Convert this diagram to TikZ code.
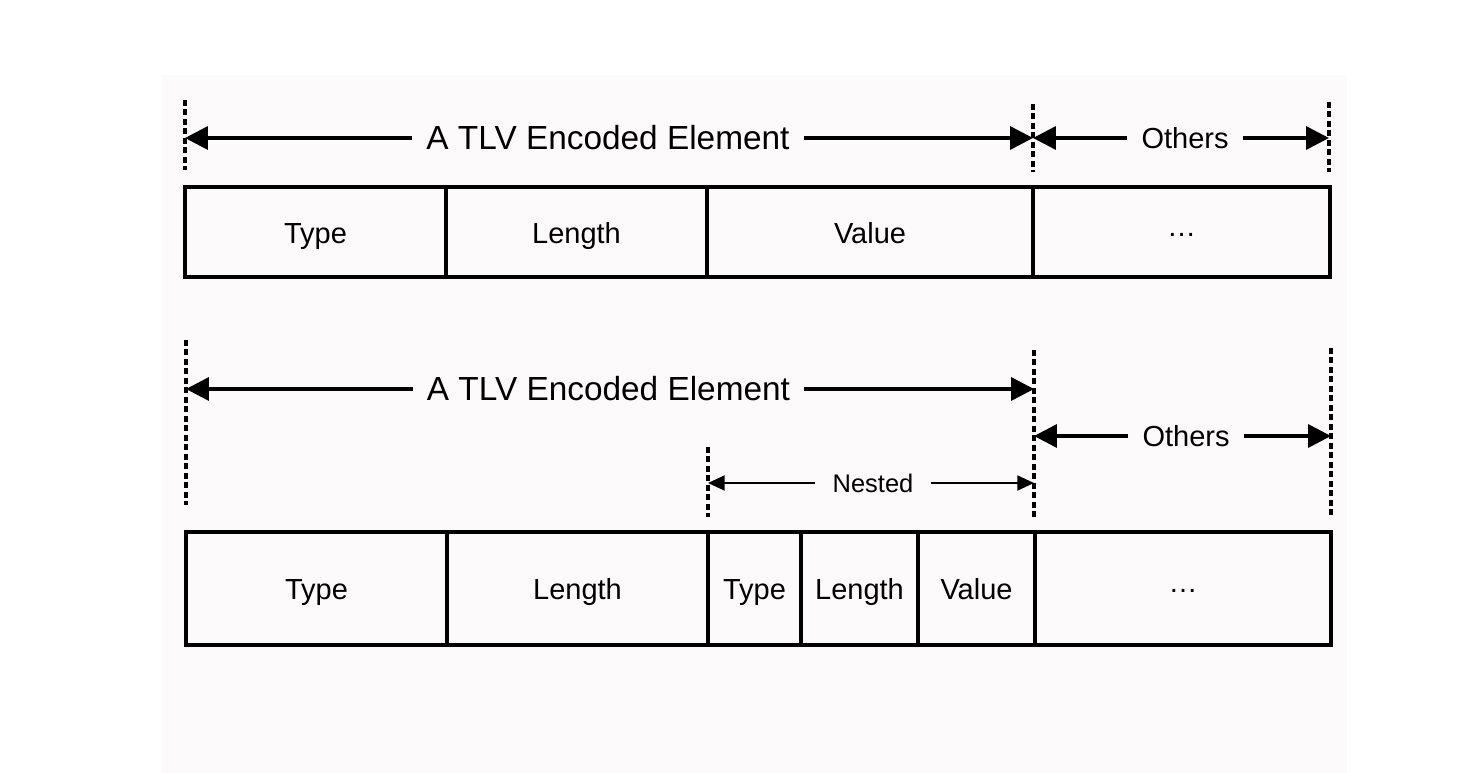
\documentclass[tikz,border=0pt]{standalone}
\usepackage{fontspec}
\setmainfont{Liberation Sans}
\usetikzlibrary{arrows.meta}

\begin{document}
\begin{tikzpicture}
            [x=0.02cm,y=-0.02cm,
             field/.style={draw,line width=2pt,inner sep=0pt,text height=1.3em,text depth=0pt,font=\fontsize{16.5}{20}\selectfont},
             sep/.style={line width=2pt,dash pattern=on 3.4pt off 2pt},
             dim/.style={line width=2pt,-{Triangle[length=13pt,width=13pt]}},
             subdim/.style={line width=1.2pt,-{Triangle[length=9.5pt,width=8.5pt]}},
             big/.style={inner xsep=8pt,inner ysep=0pt,font=\fontsize{19}{23}\selectfont},
             mid/.style={inner xsep=8pt,inner ysep=0pt,font=\fontsize{16.5}{20}\selectfont},
             small/.style={inner xsep=10pt,inner ysep=0pt,font=\fontsize{14.5}{18}\selectfont}]
            \useasboundingbox (0,0) rectangle (1466,773);
            \fill[fill={rgb,255:red,252;green,250;blue,251}] (162,75) rectangle (1347,773);
            
            % upper element
            \node[field,minimum width=5.22cm,minimum height=1.8cm] (T1) at (315.5,232) {Type};
            \node[field,minimum width=5.22cm,minimum height=1.8cm] (L1) at (576.5,232) {Length};
            \node[field,minimum width=6.52cm,minimum height=1.8cm] (V1) at (870,232) {Value};
            \node[field,minimum width=5.94cm,minimum height=1.8cm] (O1) at (1181.5,232) {\raisebox{0.25em}{…}};
            
            \coordinate (S1a) at (185,100);
            \coordinate (S1b) at (185,170);
            \coordinate (S2a) at (1033,104);
            \coordinate (S2b) at (1033,172);
            \coordinate (S3a) at (1329,102);
            \coordinate (S3b) at (1329,172);
            \draw[sep] (S1a) -- (S1b);
            \draw[sep] (S2a) -- (S2b);
            \draw[sep] (S3a) -- (S3b);
            
            \coordinate (E1l) at (185,138);
            \coordinate (E1r) at (1033,138);
            \coordinate (R1l) at (1033,138);
            \coordinate (R1r) at (1329,138);
            \node[big] (E1) at (608,138) {A TLV Encoded Element};
            \node[mid] (R1) at (1185,138) {Others};
            \draw[dim] (E1) -- (E1l);
            \draw[dim] (E1) -- (E1r);
            \draw[dim] (R1) -- (R1l);
            \draw[dim] (R1) -- (R1r);
            
            % lower element
            \node[field,minimum width=5.22cm,minimum height=2.26cm] (T2) at (316.5,588.5) {Type};
            \node[field,minimum width=5.22cm,minimum height=2.26cm] (L2) at (577.5,588.5) {Length};
            \node[field,minimum width=1.86cm,minimum height=2.26cm] (NT) at (754.5,588.5) {Type};
            \node[field,minimum width=2.34cm,minimum height=2.26cm] (NL) at (859.5,588.5) {Length};
            \node[field,minimum width=2.34cm,minimum height=2.26cm] (NV) at (976.5,588.5) {Value};
            \node[field,minimum width=5.92cm,minimum height=2.26cm] (O2) at (1183,588.5) {\raisebox{0.25em}{…}};
            
            \coordinate (S4a) at (186,340);
            \coordinate (S4b) at (186,505);
            \coordinate (S5a) at (1034,350);
            \coordinate (S5b) at (1034,518);
            \coordinate (S6a) at (1331,348);
            \coordinate (S6b) at (1331,518);
            \coordinate (S7a) at (708,447);
            \coordinate (S7b) at (708,517);
            \draw[sep] (S4a) -- (S4b);
            \draw[sep] (S5a) -- (S5b);
            \draw[sep] (S6a) -- (S6b);
            \draw[sep] (S7a) -- (S7b);
            
            \coordinate (E2l) at (186,389);
            \coordinate (E2r) at (1034,389);
            \coordinate (R2l) at (1034,436);
            \coordinate (R2r) at (1331,436);
            \coordinate (N2l) at (708,483);
            \coordinate (N2r) at (1034,483);
            \node[big] (E2) at (608.5,389) {A TLV Encoded Element};
            \node[mid] (R2) at (1186,436) {Others};
            \node[small] (N2) at (873,483) {Nested};
            \draw[dim] (E2) -- (E2l);
            \draw[dim] (E2) -- (E2r);
            \draw[dim] (R2) -- (R2l);
            \draw[dim] (R2) -- (R2r);
            \draw[subdim] (N2) -- (N2l);
            \draw[subdim] (N2) -- (N2r);
        \end{tikzpicture}
\end{document}
